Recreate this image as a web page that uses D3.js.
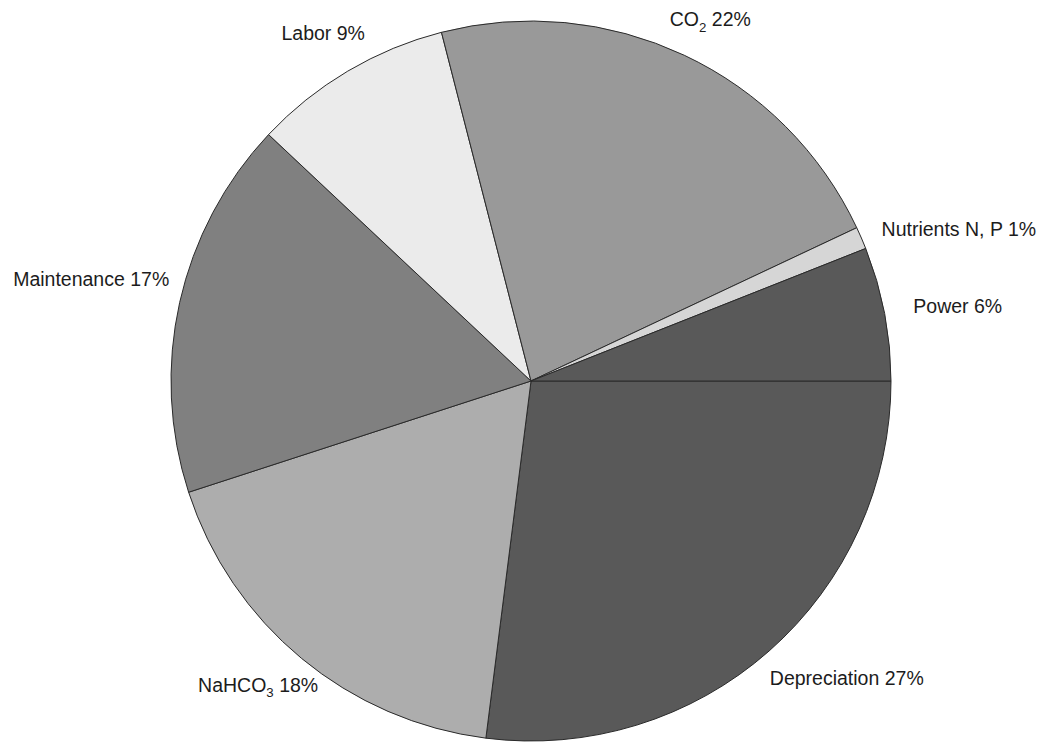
<!DOCTYPE html>
<html>
<head>
<meta charset="utf-8">
<script src="https://cdn.jsdelivr.net/npm/d3@7"></script>
<style>
  html, body { margin: 0; padding: 0; background: #ffffff; }
  svg { display: block; }
  text { font-family: "Liberation Sans", Arial, Helvetica, sans-serif; fill: #1c1c1c; }
</style>
</head>
<body>
<svg id="chart" width="1051" height="742"></svg>
<script>
// ---- data ----
const categories = ["Depreciation", "NaHCO3", "Maintenance", "Labor", "CO2", "Nutrients N, P", "Power"];
const values = [27, 18, 17, 9, 22, 1, 6];
const labelMain = ["Depreciation", "NaHCO", "Maintenance", "Labor", "CO", "Nutrients N, P", "Power"];
const labelSub = ["", "3", "", "", "2", "", ""];
const colors = ["#595959", "#adadad", "#808080", "#ebebeb", "#999999", "#d6d6d6", "#595959"];

// ---- layout ----
const W = 1051, H = 742;
const cx = 531, cy = 381, r = 360;
// small manual label nudges (layout only), in slice order
const labelNudge = [[7, -3], [14, -5], [17, -14], [12, -3], [-4, 1], [-1, 7], [0, 0]];

const svg = d3.select("#chart");
const g = svg.append("g").attr("transform", `translate(${cx},${cy})`);

// start at 3 o'clock, clockwise
const pie = d3.pie().sort(null).value(d => d)
  .startAngle(Math.PI / 2).endAngle(Math.PI / 2 + 2 * Math.PI);
const arcs = pie(values);
const arc = d3.arc().innerRadius(0).outerRadius(r);

g.selectAll("path.slice").data(arcs).enter().append("path")
  .attr("class", "slice")
  .attr("d", arc)
  .attr("fill", (d, i) => colors[i])
  .attr("stroke", "#2a2a2a")
  .attr("stroke-width", 1)
  .attr("stroke-linejoin", "round");

// labels
const fontSize = 19.5;
const gap = 30;
const labels = g.selectAll("text.lbl").data(arcs).enter().append("text")
  .attr("class", "lbl")
  .attr("font-size", fontSize)
  .attr("text-anchor", "middle");
labels.each(function(d, i) {
  const t = d3.select(this);
  t.append("tspan").text(labelMain[i]);
  if (labelSub[i]) {
    t.append("tspan").attr("font-size", fontSize * 0.68).attr("dy", fontSize * 0.3).text(labelSub[i]);
    t.append("tspan").attr("dy", -fontSize * 0.3).text(" " + values[i] + "%");
  } else {
    t.append("tspan").text(" " + values[i] + "%");
  }
});
labels.each(function(d, i) {
  const mid = (d.startAngle + d.endAngle) / 2; // 0 = 12 o'clock, clockwise
  const ux = Math.sin(mid), uy = -Math.cos(mid);
  const bb = this.getBBox();
  const w = bb.width / 2, h = fontSize * 0.55;
  const px = ux * (r + gap) + ux * w + labelNudge[i][0];
  const py = uy * (r + gap) + uy * h + labelNudge[i][1];
  d3.select(this).attr("x", px).attr("y", py + fontSize * 0.35);
  d3.select(this).select("tspan").attr("x", px);
});
</script>
</body>
</html>
